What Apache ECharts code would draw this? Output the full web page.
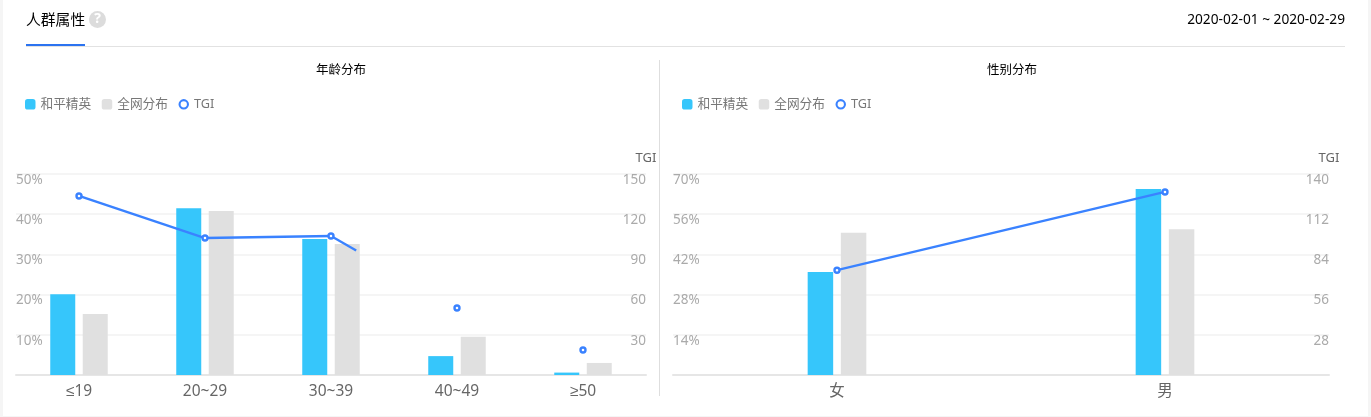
<!DOCTYPE html>
<html><head><meta charset="utf-8">
<style>html,body{margin:0;padding:0;background:#fff;overflow:hidden}#c{width:1371px;height:417px}</style>
<script src="https://cdn.jsdelivr.net/npm/echarts@6/dist/echarts.min.js"></script>
</head><body><div id="c"></div>
<script>
const pageTitle = '人群属性';
const dateRange = '2020-02-01 ~ 2020-02-29';
const ageTitle = '年龄分布';
const genderTitle = '性别分布';
const seriesNames = ['和平精英', '全网分布', 'TGI'];

const ageCats = ['≤19', '20~29', '30~39', '40~49', '≥50'];
const ageApp = [20.1, 41.5, 33.8, 4.7, 0.6];
const ageAll = [15.2, 40.8, 32.6, 9.5, 3.0];
const ageTgi = [133.6, 102.2, 103.7, 50, 18.7];
// share of the line drawn from each point to the next (the source line stops part-way)
const ageLineShare = [1, 1, 0.2, 0, 0];

const genderCats = ['女', '男'];
const genderApp = [35.9, 64.8];
const genderAll = [49.5, 50.8];
const genderTgi = [73, 127.5];
const genderLineShare = [1, 0];

const BLUE = '#36c6fb', GREY = '#e0e0e0', LINE = '#3a82ff';
const FONT = '"Noto Sans","Liberation Sans","Noto Sans CJK SC",sans-serif';
const RING = 'path://M5 0A5 5 0 1 1 5 10A5 5 0 1 1 5 0ZM5 2A3 3 0 1 0 5 8A3 3 0 1 0 5 2Z';

function lineData(vals, share) {
  return vals.map((v, i) => [i, v, i + 1 < vals.length ? vals[i + 1] : v, share[i]]);
}
function renderSeg(params, api) {
  const share = api.value(3);
  if (!share) return null;
  const a = api.coord([api.value(0), api.value(1)]);
  const b = api.coord([api.value(0) + 1, api.value(2)]);
  return { type: 'line', shape: { x1: a[0], y1: a[1], x2: a[0] + (b[0] - a[0]) * share, y2: a[1] + (b[1] - a[1]) * share },
    style: { stroke: LINE, lineWidth: 2.4 } };
}
function xAxis(i, cats) {
  return { type: 'category', gridIndex: i, data: cats,
    axisLine: { lineStyle: { color: '#e6e6e6', width: 2 } }, axisTick: { show: false },
    axisLabel: { color: '#666', fontSize: 15.5, fontFamily: FONT, margin: 9 } };
}
function yAxes(i, max, interval, max2, interval2) {
  const base = { type: 'value', gridIndex: i, min: 0, axisLine: { show: false }, axisTick: { show: false } };
  const lab = { inside: true, margin: 0, color: '#aaa', fontSize: 13.5, fontFamily: FONT, verticalAlign: 'top', lineHeight: 12,
    showMinLabel: false };
  return [
    Object.assign({}, base, { max, interval,
      splitLine: { lineStyle: { color: '#f5f5f5', width: 2 } },
      axisLabel: Object.assign({}, lab, { formatter: '{value}%' }) }),
    Object.assign({}, base, { max: max2, interval: interval2, position: 'right', splitLine: { show: false },
      name: 'TGI', nameLocation: 'end', nameGap: 9,
      nameTextStyle: { color: '#666', fontSize: 13, fontFamily: FONT },
      axisLabel: lab })
  ];
}
function bars(i, app, all, width) {
  return [app, all].map((d, k) => ({ type: 'bar', name: seriesNames[k], xAxisIndex: i, yAxisIndex: i * 2, data: d,
    barWidth: width, barGap: '30%', itemStyle: { color: k ? GREY : BLUE }, animation: false }));
}
function tgi(i, vals, share) {
  return [
    { type: 'custom', name: 'TGI折线', xAxisIndex: i, yAxisIndex: i * 2 + 1, data: lineData(vals, share),
      renderItem: renderSeg, z: 3, animation: false, silent: true },
    { type: 'line', name: 'TGI', xAxisIndex: i, yAxisIndex: i * 2 + 1, data: vals, z: 4, animation: false,
      symbol: 'circle', symbolSize: 5, showSymbol: true, lineStyle: { width: 0 },
      itemStyle: { color: '#fff', borderColor: LINE, borderWidth: 2.4 } }
  ];
}
function legend(left, i) {
  return { left, top: 98, itemWidth: 10.5, itemHeight: 10.5, itemGap: 10.5, padding: 0,
    textStyle: { color: '#777', fontSize: 12.7, fontFamily: FONT },
    data: [
      { name: seriesNames[0], icon: 'roundRect' }, { name: seriesNames[1], icon: 'roundRect' },
      { name: seriesNames[2], icon: RING, itemStyle: { color: LINE, borderWidth: 0 } }
    ] };
}
const chart = echarts.init(document.getElementById('c'));
chart.setOption({
  animation: false, backgroundColor: '#fff',
  title: [
    { text: pageTitle, left: 26, top: 13, padding: 0, textStyle: { color: '#000', fontSize: 14.8, fontWeight: 'normal', fontFamily: FONT } },
    { text: dateRange, right: 26, top: 13, padding: 0, textStyle: { color: '#000', fontSize: 13.7, fontWeight: 'normal', fontFamily: FONT } },
    { text: ageTitle, left: 341, textAlign: 'center', top: 64, padding: 0, textStyle: { color: '#000', fontSize: 12.5, fontWeight: 'normal', fontFamily: FONT } },
    { text: genderTitle, left: 1012, textAlign: 'center', top: 64, padding: 0, textStyle: { color: '#000', fontSize: 12.5, fontWeight: 'normal', fontFamily: FONT } }
  ],
  legend: [legend(25, 0), legend(682, 1)],
  grid: [
    { left: 16, width: 630, top: 174, height: 201 },
    { left: 673, width: 656, top: 174, height: 201 }
  ],
  xAxis: [xAxis(0, ageCats), xAxis(1, genderCats)],
  yAxis: [...yAxes(0, 50, 10, 150, 30), ...yAxes(1, 70, 14, 140, 28)],
  series: [...bars(0, ageApp, ageAll, 25), ...tgi(0, ageTgi, ageLineShare),
           ...bars(1, genderApp, genderAll, 25.5), ...tgi(1, genderTgi, genderLineShare)],
  graphic: [
    { type: 'rect', shape: { x: 0, y: 0, width: 3, height: 417 }, style: { fill: '#f5f5f5' }, silent: true },
    { type: 'rect', shape: { x: 1368, y: 0, width: 3, height: 417 }, style: { fill: '#f5f5f5' }, silent: true },
    { type: 'rect', shape: { x: 0, y: 416, width: 1371, height: 1 }, style: { fill: '#f5f5f5' }, silent: true },
    { type: 'rect', shape: { x: 26, y: 46, width: 1319, height: 1 }, style: { fill: '#e2e2e2' }, silent: true },
    { type: 'rect', shape: { x: 26, y: 44, width: 59, height: 2 }, style: { fill: '#2b73f0' }, silent: true },
    { type: 'rect', shape: { x: 659, y: 60, width: 1, height: 336 }, style: { fill: '#dedede' }, silent: true },
    { type: 'circle', shape: { cx: 97.5, cy: 19.5, r: 8.5 }, style: { fill: '#dcdcdc' }, silent: true },
    { type: 'text', x: 97.5, y: 19.5, style: { text: '?', fill: '#fff', fontSize: 14, fontWeight: 'bold', fontFamily: FONT, align: 'center', verticalAlign: 'middle' }, silent: true }
  ]
});
</script></body></html>
